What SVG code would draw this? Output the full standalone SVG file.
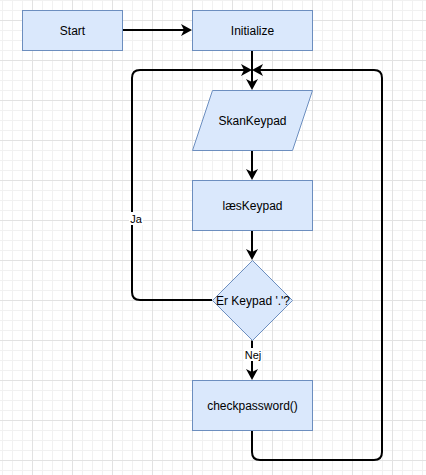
<svg xmlns="http://www.w3.org/2000/svg" width="426" height="475" viewBox="0 0 426 475">
<defs>
<pattern id="minor" x="2" y="0" width="10" height="10" patternUnits="userSpaceOnUse">
<path d="M0.5,0 V10 M0,0.5 H10" stroke="#f1f1f1" stroke-width="1" fill="none"/>
</pattern>
<pattern id="major" x="32" y="20" width="40" height="40" patternUnits="userSpaceOnUse">
<path d="M0.5,0 V40 M0,0.5 H40" stroke="#e2e2e2" stroke-width="1" fill="none"/>
</pattern>
<marker id="arr" markerUnits="userSpaceOnUse" markerWidth="14" markerHeight="14" viewBox="0 -7 14 14" refX="3" refY="0" orient="auto" overflow="visible">
<path d="M11,0 L0,-6 L3,0 L0,6 Z" fill="#000"/>
</marker>
<style>
.node{fill:#dae8fc;stroke:#6c8ebf;stroke-width:1}
.lbl{font-family:"Liberation Sans",Arial,sans-serif;font-size:12px;fill:#000;text-anchor:middle;dominant-baseline:central}
.elbl{font-family:"Liberation Sans",Arial,sans-serif;font-size:11px;fill:#000;text-anchor:middle;dominant-baseline:central}
.edge{fill:none;stroke:#000;stroke-width:2;marker-end:url(#arr)}
</style>
</defs>
<rect width="426" height="475" fill="#fff"/>
<rect width="426" height="475" fill="url(#minor)"/>
<rect width="426" height="475" fill="url(#major)"/>

<g id="connectors">
<path class="edge" d="M122.5,30 L184,30"/>
<path class="edge" d="M252,50.5 L252,82"/>
<path class="edge" d="M212,300 L140,300 Q132,300 132,292 L132,78 Q132,70 140,70 L244,70"/>
<path class="edge" d="M252,430.5 L252,452 Q252,460 260,460 L374,460 Q382,460 382,452 L382,78 Q382,70 374,70 L260,70"/>
<path class="edge" d="M252,150.5 L252,172"/>
<path class="edge" d="M252,230.5 L252,252"/>
<path class="edge" d="M252,340.5 L252,372"/>
<g id="label-ja">
<rect x="129" y="212" width="14" height="13" fill="#fff"/>
<text class="elbl" x="136" y="219">Ja</text>
</g>
<g id="label-nej">
<rect x="244" y="348" width="18" height="13" fill="#fff"/>
<text class="elbl" x="253" y="355">Nej</text>
</g>
</g>

<g id="start">
<rect class="node" x="22.5" y="10.5" width="100" height="40"/>
<text class="lbl" x="72.5" y="30.5">Start</text>
</g>
<g id="initialize">
<rect class="node" x="192.5" y="10.5" width="120" height="40"/>
<text class="lbl" x="252.5" y="30.5">Initialize</text>
</g>
<g id="skankeypad">
<polygon class="node" points="212.5,90.5 312.5,90.5 292.5,150.5 192.5,150.5"/>
<text class="lbl" x="252.5" y="120.5">SkanKeypad</text>
</g>
<g id="laeskeypad">
<rect class="node" x="192.5" y="180.5" width="120" height="50"/>
<text class="lbl" x="252.5" y="205.5">læsKeypad</text>
</g>
<g id="decision">
<polygon class="node" points="252.5,260.5 292.5,300.5 252.5,340.5 212.5,300.5"/>
<text class="lbl" x="253" y="300.5">Er Keypad '.'?</text>
</g>
<g id="checkpassword">
<rect class="node" x="192.5" y="380.5" width="120" height="50"/>
<text class="lbl" x="252.5" y="405.5">checkpassword()</text>
</g>
</svg>
